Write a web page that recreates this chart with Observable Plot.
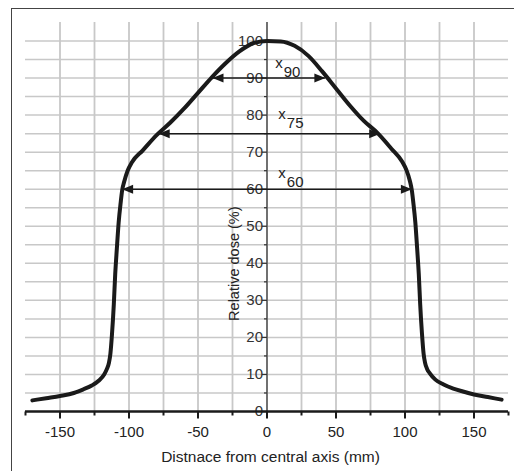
<!DOCTYPE html>
<html><head><meta charset="utf-8">
<script src="https://cdn.jsdelivr.net/npm/d3@7"></script>
<script src="https://cdn.jsdelivr.net/npm/@observablehq/plot@0.6"></script>
<style>body{margin:0;background:#fff} svg{display:block}</style>
</head><body><div id="chart"></div>
<script>
// Dose profile (distance in mm, relative dose in %)
const profileX = [-170,-160,-150,-140,-133,-127,-122,-118,-116,-114.5,-113.5,-112.3,-111,-110,-108.8,-107.5,-106,-105,-103.5,-101,-98,-90,-80,-70,-60,-50,-40,-30,-20,-10,0,10,20,30,40,50,60,70,80,90,98,101,103.5,105,106,107.5,108.8,110,111,112.3,113.5,114.5,116,118,122,128,135,142,150,160,170];
const profileY = [3.0,3.6,4.2,5.0,6.0,7.0,8.3,10.0,11.5,13.2,15.5,21,29,37,44,51,56.5,59.6,62,65,67.2,70.5,74.6,78,81.8,86,90.2,94,97.2,99.4,100,99.9,98.7,96,91.8,87.2,82.6,78.5,75.2,71,67.4,65.2,62.3,59.6,56.5,51,44,37,29,21,15.5,13.2,11.5,10.3,8.6,7.3,6.2,5.4,4.6,3.9,3.2];

// Width arrows (x90, x75, x60)
const arrowLevel = [90, 75, 60];
const arrowLeft = [-39.5, -78.5, -105];
const arrowRight = [42.3, 82, 105];
const arrowSub = ["90", "75", "60"];
const arrowLabelX = [6, 8.2, 8.2];
const arrowLabelY = [92.8, 79.0, 63.1];

// Ticks and grid
const xTicks = [-150, -100, -50, 0, 50, 100, 150];
const xMinorTicks = [-175, -125, -75, -25, 25, 75, 125, 175];
const yTicks = [0, 10, 20, 30, 40, 50, 60, 70, 80, 90, 100];
const yMinorTicks = [5, 15, 25, 35, 45, 55, 65, 75, 85, 95];
const xGrid = [-150, -125, -100, -75, -50, -25, 0, 25, 50, 75, 100, 125, 150];
const yGrid = [5, 10, 15, 20, 25, 30, 35, 40, 45, 50, 55, 60, 65, 70, 75, 80, 85, 90, 95, 100];

const xTitle = "Distnace from central axis (mm)";
const yTitle = "Relative dose (%)";
const yTitlePos = {x: -23.7, y: 39.9};

const profile = profileX.map((x, i) => ({x, y: profileY[i]}));
const arrows = arrowLevel.map((level, i) => ({
  level, left: arrowLeft[i], right: arrowRight[i], sub: arrowSub[i],
  lx: arrowLabelX[i], ly: arrowLabelY[i]
}));

const segLeft = (len) => ({draw(ctx) { ctx.moveTo(-len, 0); ctx.lineTo(0, 0); }});
const segDown = (len) => ({draw(ctx) { ctx.moveTo(0, 0); ctx.lineTo(0, len); }});
const headLeft = {draw(ctx) { ctx.moveTo(0, 0); ctx.lineTo(11, -4.5); ctx.lineTo(11, 4.5); ctx.closePath(); }};
const headRight = {draw(ctx) { ctx.moveTo(0, 0); ctx.lineTo(-11, -4.5); ctx.lineTo(-11, 4.5); ctx.closePath(); }};

const font = "'Liberation Sans', Arial, Helvetica, sans-serif";
const ink = "#1a1a1a";

const chart = Plot.plot({
  width: 514,
  height: 471,
  marginLeft: 25,
  marginRight: 6,
  marginTop: 22,
  marginBottom: 60,
  style: {fontFamily: font, background: "#fff", overflow: "visible"},
  x: {domain: [-175, 175], axis: null},
  y: {domain: [0, 105], axis: null},
  marks: [
    Plot.ruleY(yGrid, {stroke: "#c8c8c8", strokeWidth: 1.5}),
    Plot.ruleX(xGrid, {stroke: "#c8c8c8", strokeWidth: 1.8}),
    Plot.ruleX([0], {stroke: "#333", strokeWidth: 1.2}),
    Plot.dot(yTicks, {x: 0, y: d => d, symbol: segLeft(5), fill: "none", stroke: "#333", strokeWidth: 1.2}),
    Plot.dot(yMinorTicks, {x: 0, y: d => d, symbol: segLeft(3), fill: "none", stroke: "#333", strokeWidth: 1.2}),
    Plot.text(yTicks, {x: 0, y: d => d, text: d => String(d), textAnchor: "end", dx: -4, fontSize: 15, fill: "#333"}),
    Plot.line(profile, {x: "x", y: "y", stroke: ink, strokeWidth: 4, curve: "monotone-x"}),
    Plot.ruleY(arrows, {y: "level", x1: "left", x2: "right", stroke: ink, strokeWidth: 1.5}),
    Plot.dot(arrows, {x: "left", y: "level", symbol: headLeft, fill: ink, stroke: "none"}),
    Plot.dot(arrows, {x: "right", y: "level", symbol: headRight, fill: ink, stroke: "none"}),
    Plot.text(arrows, {x: "lx", y: "ly", text: () => "x", textAnchor: "start", lineAnchor: "bottom", fontSize: 15, fill: "#222"}),
    Plot.text(arrows, {x: "lx", y: "ly", text: "sub", textAnchor: "start", lineAnchor: "bottom", dx: 8.5, dy: 9, fontSize: 15, fill: "#222"}),
    Plot.ruleY([0], {stroke: ink, strokeWidth: 2.5}),
    Plot.dot(xTicks, {x: d => d, y: 0, symbol: segDown(7), fill: "none", stroke: ink, strokeWidth: 2}),
    Plot.dot(xMinorTicks, {x: d => d, y: 0, symbol: segDown(4), fill: "none", stroke: ink, strokeWidth: 2}),
    Plot.text(xTicks, {x: d => d, y: 0, text: d => String(d), lineAnchor: "middle", dy: 20.5, fontSize: 15, fill: "#222"}),
    Plot.text([xTitle], {frameAnchor: "bottom", text: d => d, lineAnchor: "bottom", dx: 3.5, dy: 50.5, fontSize: 15.5, fill: "#222"}),
    Plot.text([yTitle], {x: yTitlePos.x, y: yTitlePos.y, text: d => d, rotate: -90, lineAnchor: "middle", fontSize: 14.5, fill: "#222"})
  ]
});

d3.select(chart).insert("rect", ":first-child")
  .attr("x", 11.5).attr("y", 8.5).attr("width", 540).attr("height", 500)
  .attr("fill", "none").attr("stroke", "#444").attr("stroke-width", 1);

document.getElementById("chart").appendChild(chart);
</script>
</body></html>
